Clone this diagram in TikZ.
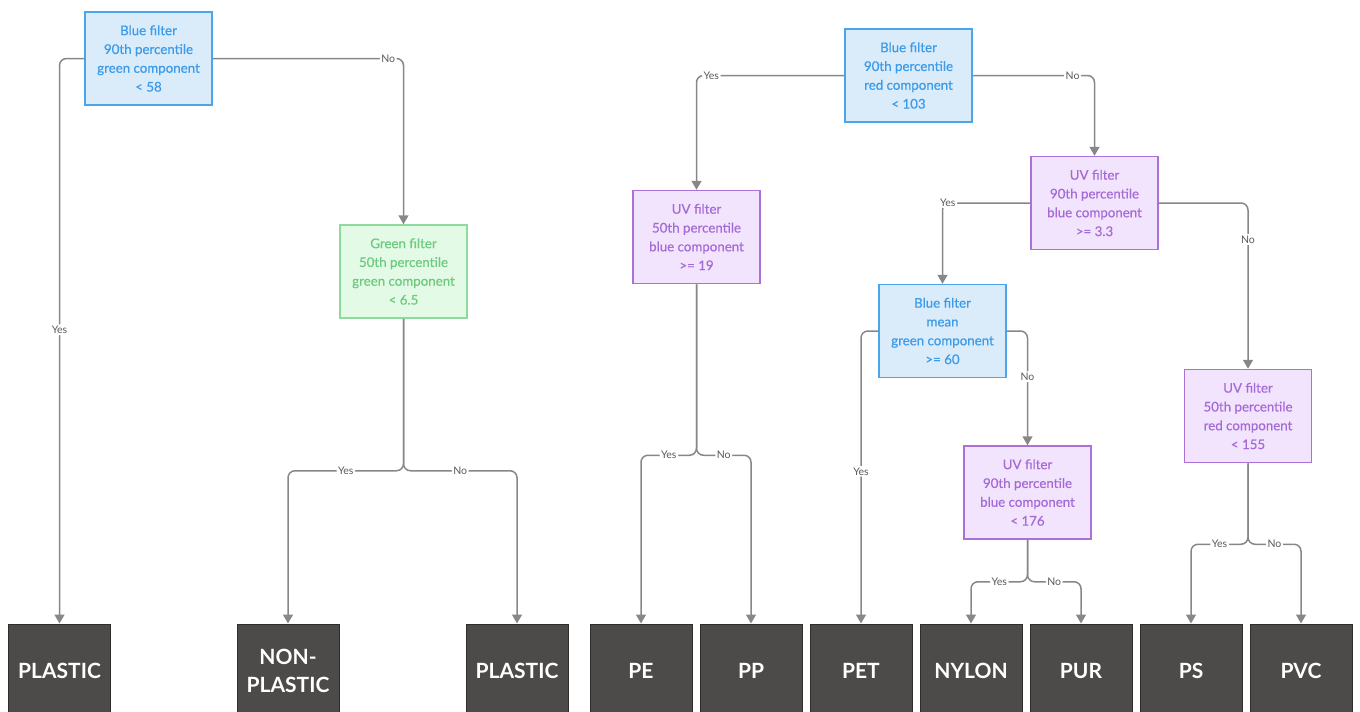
\documentclass[tikz,border=0pt]{standalone}
\usepackage{fontspec}
\setmainfont{Lato}
\newfontfamily\condfont{Lato}[BoldFont=Lato, BoldFeatures={FakeBold=0.5}]
\usetikzlibrary{arrows.meta}
\definecolor{bluefill}{HTML}{DAEBFA}
\definecolor{blueline}{HTML}{4AA5EA}
\definecolor{bluetext}{HTML}{3B9BE8}
\definecolor{greenfill}{HTML}{E3FAE6}
\definecolor{greenline}{HTML}{8DDC9E}
\definecolor{greentext}{HTML}{6CCB7E}
\definecolor{purplefill}{HTML}{F2E4FD}
\definecolor{purpleline}{HTML}{AA72D9}
\definecolor{purpletext}{HTML}{A46BD6}
\definecolor{leaffill}{HTML}{4D4B49}
\definecolor{leafline}{HTML}{2E2D2C}
\definecolor{edgegray}{HTML}{878787}
\definecolor{lblgray}{HTML}{5A5A5A}
\tikzset{
  cond/.style={draw, line width=1.5pt, minimum width=127pt, minimum height=93pt,
    align=center, font=\condfont\bfseries\fontsize{13.3}{18.8}\selectfont},
  bluebox/.style={cond, draw=blueline, fill=bluefill, text=bluetext},
  greenbox/.style={cond, draw=greenline, fill=greenfill, text=greentext},
  uvbox/.style={cond, draw=purpleline, fill=purplefill, text=purpletext},
  leafbox/.style={draw=leafline, fill=leaffill, text=white, line width=1pt,
    minimum width=102pt, minimum height=94pt, align=center,
    font=\fontsize{21}{28}\selectfont\bfseries},
  conn/.style={draw=edgegray, line width=1.5pt, rounded corners=7pt,
    -{Triangle[length=9pt,width=10pt]}},
  lbl/.style={fill=white, text=lblgray, inner sep=1.5pt, font=\fontsize{10.5}{12}\selectfont}
}
\begin{document}
\begin{tikzpicture}[x=1pt, y=-1pt]
    \useasboundingbox (0,0) rectangle (1360,712);
    \clip (0,0) rectangle (1360,712);

    % 1. Decision boxes
    \node[bluebox] (blueA) at (148.5,58.5) {Blue filter\\90th percentile\\green component\\< 58};
    \node[greenbox] (greenA) at (403.5,271.5) {Green filter\\50th percentile\\green component\\< 6.5};
    \node[bluebox] (blueB) at (908.5,75.5) {Blue filter\\90th percentile\\red component\\< 103};
    \node[uvbox] (uvA) at (696.5,237) {UV filter\\50th percentile\\blue component\\>= 19};
    \node[uvbox] (uvB) at (1094.5,203) {UV filter\\90th percentile\\blue component\\>= 3.3};
    \node[bluebox] (blueC) at (942.5,331) {Blue filter\\mean\\green component\\>= 60};
    \node[uvbox] (uvC) at (1027.5,492.5) {UV filter\\90th percentile\\blue component\\< 176};
    \node[uvbox] (uvD) at (1248,416) {UV filter\\50th percentile\\red component\\< 155};

    % 2. Result boxes
    \foreach \n/\x/\t in {plasticA/59.5/PLASTIC, nonplastic/288/NON-\\PLASTIC,
        plasticB/517/PLASTIC, pe/641/PE, pp/751/PP, pet/861/PET,
        nylon/971/NYLON, pur/1081/PUR, ps/1191/PS, pvc/1301/PVC} {
        \node[leafbox] (\n) at (\x,671) {\t};
    }

    % 3. Connectors
    \draw[conn] (blueA.west) -| node[lbl, pos=0.74] {Yes} (plasticA.north);
    \draw[conn] (blueA.east) -| node[lbl, pos=0.46] {No} (greenA.north);
    \draw[conn] (greenA.south) -- ++(0,152) -| node[lbl, pos=0.25] {Yes} (nonplastic.north);
    \draw[conn] (greenA.south) -- ++(0,152) -| node[lbl, pos=0.25] {No} (plasticB.north);

    \draw[conn] (blueB.west) -| node[lbl, pos=0.45] {Yes} (uvA.north);
    \draw[conn] (blueB.east) -| node[lbl, pos=0.41] {No} (uvB.north);
    \draw[conn] (uvA.south) -- ++(0,171) -| node[lbl, pos=0.25] {Yes} (pe.north);
    \draw[conn] (uvA.south) -- ++(0,171) -| node[lbl, pos=0.25] {No} (pp.north);

    \draw[conn] (uvB.west) -| node[lbl, pos=0.47] {Yes} (blueC.north);
    \draw[conn] (uvB.east) -| node[lbl, pos=0.61] {No} (uvD.north);
    \draw[conn] (blueC.west) -| node[lbl, pos=0.74] {Yes} (pet.north);
    \draw[conn] (blueC.east) -| node[lbl, pos=0.70] {No} (uvC.north);

    \draw[conn] (uvC.south) -- ++(0,42) -| node[lbl, pos=0.25] {Yes} (nylon.north);
    \draw[conn] (uvC.south) -- ++(0,42) -| node[lbl, pos=0.25] {No} (pur.north);
    \draw[conn] (uvD.south) -- ++(0,81) -| node[lbl, pos=0.25] {Yes} (ps.north);
    \draw[conn] (uvD.south) -- ++(0,81) -| node[lbl, pos=0.25] {No} (pvc.north);
\end{tikzpicture}
\end{document}
